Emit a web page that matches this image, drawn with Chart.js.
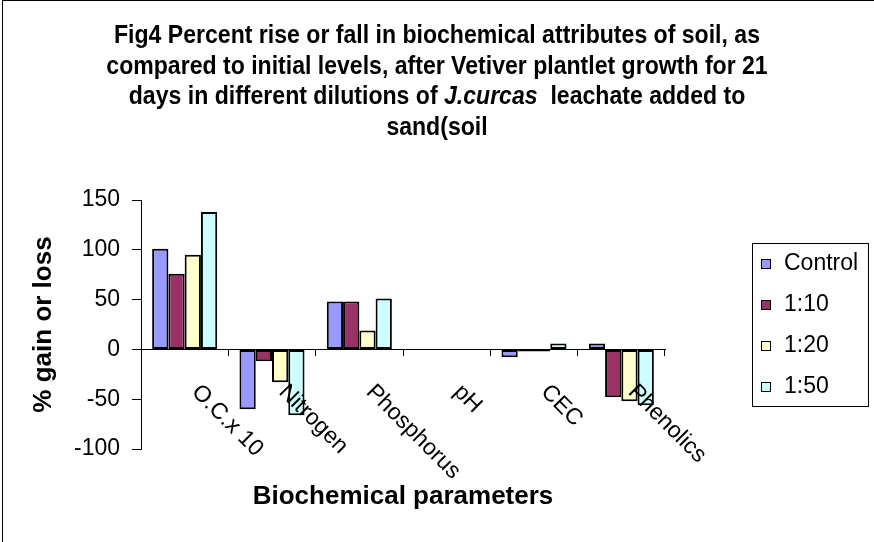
<!DOCTYPE html>
<html>
<head>
<meta charset="utf-8">
<script src="https://cdn.jsdelivr.net/npm/chart.js@4.4.1/dist/chart.umd.min.js"></script>
<style>
  body { margin: 0; background: #fff; }
</style>
</head>
<body>
<canvas id="myChart" width="874" height="542"></canvas>
<script>
// datos
var categorias = ['O.C.x 10', 'Nitrogen', 'Phosphorus', 'pH', 'CEC', 'Phenolics'];
var series = ['Control', '1:10', '1:20', '1:50'];
var control = [101, -60, 48, 0, -8, 6];
var dil10 = [76, -12, 48, 0, -2, -48];
var dil20 = [95, -33, 19, 0, -2, -52];
var dil50 = [138, -66, 51, 0, 6, -56];
var yTicks = [150, 100, 50, 0, -50, -100];
var colores = ['#9999ff', '#993366', '#ffffcc', '#ccffff'];

var titulo = [
    [['Fig4 Percent rise or fall in biochemical attributes of soil, as', false]],
    [['compared to initial levels, after Vetiver plantlet growth for 21', false]],
    [['days in different dilutions of ', false], ['J.curcas', true], ['  leachate added to', false]],
    [['sand(soil', false]]
];

var FAMILY = '"Liberation Sans", Arial, sans-serif';
Chart.defaults.font.family = FAMILY;
Chart.defaults.color = '#000';

var decor = {
    id: 'decor',
    beforeDraw: function(chart) {
        var ctx = chart.ctx;
        ctx.save();
        ctx.fillStyle = '#fff';
        ctx.fillRect(0, 0, chart.width, chart.height);
        ctx.strokeStyle = '#000';
        ctx.lineWidth = 1;
        ctx.strokeRect(2.5, 0.5, chart.width + 10, chart.height + 10);
        ctx.restore();
    },
    afterDatasetsDraw: function(chart) {
        // etiquetas de categoria giradas 45 grados
        var ctx = chart.ctx;
        var x = chart.scales.x;
        ctx.save();
        ctx.fillStyle = '#000';
        ctx.font = '23px ' + FAMILY;
        ctx.textAlign = 'left';
        ctx.textBaseline = 'alphabetic';
        categorias.forEach(function(c, i) {
            ctx.save();
            ctx.translate(x.getPixelForValue(i) + 6, 393);
            ctx.rotate(Math.PI / 4);
            ctx.fillText(c, 0, 0);
            ctx.restore();
        });
        ctx.restore();
    },
    afterDraw: function(chart) {
        var ctx = chart.ctx;
        var area = chart.chartArea;
        ctx.save();
        ctx.fillStyle = '#000';

        // titulo
        ctx.font = 'bold 25px ' + FAMILY;
        var w1 = ctx.measureText(titulo[0][0][0]).width;
        var sx = 646 / w1;
        var bases = [43, 74, 104, 135];
        titulo.forEach(function(linea, i) {
            var total = 0;
            linea.forEach(function(p) {
                ctx.font = (p[1] ? 'italic ' : '') + 'bold 25px ' + FAMILY;
                total += ctx.measureText(p[0]).width;
            });
            ctx.save();
            ctx.translate(437, bases[i]);
            ctx.scale(sx, 1);
            var cx = -total / 2;
            ctx.textAlign = 'left';
            ctx.textBaseline = 'alphabetic';
            linea.forEach(function(p) {
                ctx.font = (p[1] ? 'italic ' : '') + 'bold 25px ' + FAMILY;
                ctx.fillText(p[0], cx, 0);
                cx += ctx.measureText(p[0]).width;
            });
            ctx.restore();
        });

        // titulo eje x
        ctx.font = 'bold 26px ' + FAMILY;
        ctx.textAlign = 'center';
        ctx.textBaseline = 'middle';
        ctx.fillText('Biochemical parameters', (area.left + area.right) / 2, 497);

        // leyenda
        ctx.lineWidth = 1;
        ctx.strokeStyle = '#000';
        ctx.strokeRect(752.5, 243.5, 116, 163);
        ctx.font = '23px ' + FAMILY;
        ctx.textAlign = 'left';
        chart.data.datasets.forEach(function(ds, i) {
            var cy = 264 + i * 41;
            ctx.fillStyle = ds.backgroundColor;
            ctx.fillRect(761, cy - 5, 10, 10);
            ctx.strokeRect(761.5, cy - 4.5, 9, 9);
            ctx.fillStyle = '#000';
            ctx.fillText(ds.label, 784, cy);
        });
        ctx.restore();
    }
};

var ctx = document.getElementById('myChart').getContext('2d');
var myChart = new Chart(ctx, {
    type: 'bar',
    data: {
        labels: categorias,
        datasets: [control, dil10, dil20, dil50].map(function(d, i) {
            return {
                label: series[i],
                data: d,
                backgroundColor: colores[i],
                borderColor: '#000',
                borderWidth: 2,
                borderSkipped: false,
                categoryPercentage: 0.745,
                barPercentage: 1.0
            };
        })
    },
    options: {
        responsive: false,
        animation: false,
        devicePixelRatio: 1,
        layout: { padding: { top: 200, bottom: 93, left: 0, right: 209 } },
        plugins: {
            legend: { display: false },
            title: { display: false },
            tooltip: { enabled: false }
        },
        scales: {
            x: {
                position: { y: 0 },
                offset: true,
                afterFit: function(s) { s.height = 0; },
                grid: { offset: true, drawOnChartArea: false, drawTicks: true, tickLength: 6, color: '#000' },
                border: { color: '#000', width: 1 },
                ticks: { display: false }
            },
            y: {
                min: -100,
                max: 150,
                afterFit: function(s) { s.width = 141; },
                afterBuildTicks: function(s) {
                    s.ticks = yTicks.map(function(v) { return { value: v }; });
                },
                grid: { drawOnChartArea: false, drawTicks: true, tickLength: 9, color: '#000' },
                border: { color: '#000', width: 1 },
                ticks: { font: { size: 23 }, padding: 12, color: '#000' },
                title: {
                    display: true,
                    text: '% gain or loss',
                    font: { size: 26, weight: 'bold' },
                    padding: { top: 28, bottom: 0 }
                }
            }
        }
    },
    plugins: [decor]
});
</script>
</body>
</html>
